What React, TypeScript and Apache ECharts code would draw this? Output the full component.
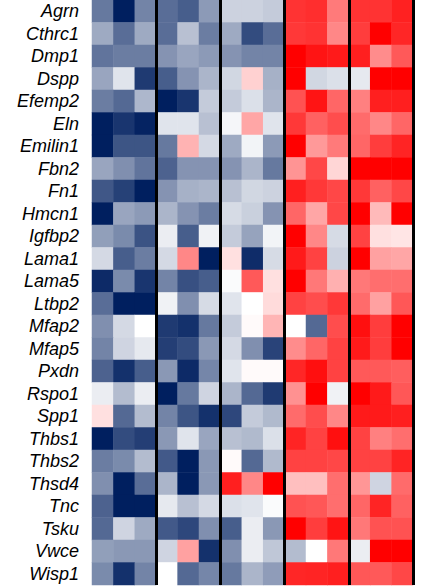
import React, { useEffect, useRef } from "react";
import * as echarts from "echarts";

const genes = ["Agrn","Cthrc1","Dmp1","Dspp","Efemp2","Eln","Emilin1","Fbn2","Fn1","Hmcn1","Igfbp2","Lama1","Lama5","Ltbp2","Mfap2","Mfap5","Pxdn","Rspo1","Spp1","Thbs1","Thbs2","Thsd4","Tnc","Tsku","Vwce","Wisp1"];
const samples = ["S1","S2","S3","S4","S5","S6","S7","S8","S9","S10","S11","S12","S13","S14","S15"];

const Agrn = [-0.6,-1.0,-0.55,-0.65,-0.72,-0.45,-0.2,-0.2,-0.23,0.8,0.82,0.52,0.8,0.8,0.87];
const Cthrc1 = [-0.38,-0.65,-0.38,-0.65,-0.28,-0.58,-0.38,-0.8,-0.65,0.78,0.8,0.47,0.76,1.0,0.85];
const Dmp1 = [-0.62,-0.58,-0.58,-0.48,-0.4,-0.45,-0.48,-0.55,-0.55,1.0,0.92,0.9,0.88,0.45,0.65];
const Dspp = [-0.4,-0.12,-0.88,-0.72,-0.48,-0.33,-0.18,0.18,-0.35,1.0,-0.18,-0.14,-0.1,1.0,1.0];
const Efemp2 = [-0.58,-0.67,-0.32,-1.0,-0.9,-0.23,-0.23,-0.14,-0.33,0.68,0.92,0.6,0.5,0.88,0.88];
const Eln = [-1.0,-0.9,-0.98,-0.12,-0.12,-0.28,-0.04,0.35,-0.12,0.78,0.62,0.7,0.58,0.47,0.6];
const Emilin1 = [-1.0,-0.76,-0.76,-0.6,0.3,-0.17,-0.38,-0.05,-0.45,1.0,0.4,0.52,0.6,0.76,0.86];
const Fbn2 = [-0.4,-0.5,-0.62,-0.7,-0.48,-0.48,-0.48,-0.33,-0.6,0.42,0.72,0.16,1.0,1.0,1.0];
const Fn1 = [-0.75,-0.85,-1.0,-0.48,-0.35,-0.33,-0.28,-0.18,-0.2,0.88,0.78,0.72,0.78,0.62,0.72];
const Hmcn1 = [-1.0,-0.4,-0.45,-0.33,-0.48,-0.58,-0.16,-0.21,-0.48,0.6,0.35,0.72,1.0,0.27,1.0];
const Igfbp2 = [-0.43,-0.52,-0.77,-0.08,-0.72,-0.06,-0.23,-0.41,-0.05,1.0,0.47,-0.16,0.74,0.12,0.1];
const Lama1 = [-0.17,-0.72,-0.58,-0.17,0.47,-1.0,0.12,-0.94,-0.16,0.9,0.74,-0.2,1.0,0.37,0.35];
const Lama5 = [-0.95,-0.52,-0.9,-0.55,-0.78,-0.72,-0.02,0.65,0.12,1.0,0.53,0.31,0.53,0.57,0.57];
const Ltbp2 = [-0.65,-1.0,-1.0,-0.06,-0.5,-0.16,-0.12,0.0,0.14,0.74,0.7,0.78,0.58,0.37,0.66];
const Mfap2 = [-0.5,-0.17,0.0,-0.88,-0.92,-0.6,-0.23,0.02,0.29,0.0,-0.67,0.7,0.94,0.76,1.0];
const Mfap5 = [-0.55,-0.19,-0.1,-0.86,-0.8,-0.46,-0.17,-0.5,-0.84,0.45,0.6,0.74,0.9,0.76,1.0];
const Pxdn = [-0.7,-0.92,-0.72,-0.46,-0.95,-0.54,-0.12,0.02,0.02,0.85,0.94,0.74,0.65,0.65,0.63];
const Rspo1 = [-0.08,-0.3,-0.08,-1.0,-0.6,-0.19,-0.33,-0.67,-0.88,0.43,1.0,-0.06,1.0,0.9,0.66];
const Spp1 = [0.12,-0.67,-0.3,-0.55,-0.76,-0.92,-0.82,-0.23,-0.31,0.58,0.7,0.47,0.9,0.9,0.88];
const Thbs1 = [-1.0,-0.8,-0.86,-0.46,-0.12,-0.4,-0.28,-0.31,-0.14,0.86,0.74,0.94,0.74,0.5,0.57];
const Thbs2 = [-0.58,-0.52,-0.3,-0.74,-1.0,-0.46,0.02,-0.67,-0.31,0.74,0.74,0.72,0.74,0.74,0.86];
const Thsd4 = [-0.5,-1.0,-0.65,-0.33,-1.0,-0.46,0.88,0.47,1.0,0.25,0.25,0.57,0.41,-0.19,0.58];
const Tnc = [-0.7,-1.0,-1.0,-0.1,-0.28,-0.17,-0.14,-0.12,-0.02,0.68,0.66,0.57,0.6,0.86,0.62];
const Tsku = [-0.67,-0.19,-0.38,-0.74,-0.82,-0.5,-0.72,-0.08,-0.46,1.0,0.76,0.92,0.53,0.68,0.68];
const Vwce = [-0.43,-0.46,-0.46,-0.19,0.37,-0.92,-0.5,-0.08,-0.25,-0.3,0.0,0.53,-0.08,1.0,1.0];
const Wisp1 = [-0.52,-0.92,-0.55,0.0,-0.67,-0.54,-0.6,-0.33,-0.44,0.85,0.86,0.88,0.66,0.65,0.72];

const rows = [Agrn,Cthrc1,Dmp1,Dspp,Efemp2,Eln,Emilin1,Fbn2,Fn1,Hmcn1,Igfbp2,Lama1,Lama5,Ltbp2,Mfap2,Mfap5,Pxdn,Rspo1,Spp1,Thbs1,Thbs2,Thsd4,Tnc,Tsku,Vwce,Wisp1];
const groupSize = 3;

export default function App() {
  const ref = useRef<HTMLDivElement>(null);
  useEffect(() => {
    if (!ref.current) return;
    const chart = echarts.init(ref.current, null, { renderer: "svg" });
    const data: number[][] = [];
    rows.forEach((r, yi) => r.forEach((v, xi) => data.push([xi, yi, v])));
    chart.setOption({
      animation: false,
      grid: { left: 92, right: 10, top: 0, bottom: 1 },
      visualMap: {
        show: false,
        min: -1,
        max: 1,
        calculable: false,
        inRange: { color: ["#001f5f", "#ffffff", "#ff0000"] },
      },
      xAxis: {
        type: "category",
        data: samples,
        z: 10,
        axisLabel: { show: false },
        axisTick: { show: false },
        axisLine: { show: false },
        splitLine: {
          show: true,
          interval: (index: number) => index > 0 && index % groupSize === 0,
          lineStyle: { color: "#000000", width: 3 },
        },
      },
      yAxis: {
        type: "category",
        data: genes,
        inverse: true,
        axisTick: { show: false },
        axisLine: { show: false },
        splitLine: { show: false },
        axisLabel: {
          interval: 0,
          margin: 13,
          fontFamily: "Liberation Sans, Arial, sans-serif",
          fontStyle: "italic",
          fontSize: 18,
          color: "#000000",
        },
      },
      series: [
        {
          type: "heatmap",
          data,
          itemStyle: { borderWidth: 0 },
          emphasis: { disabled: true },
        },
      ],
    });
    return () => chart.dispose();
  }, []);
  return <div ref={ref} style={{ width: 423, height: 586, position: "absolute", left: 0, top: 0 }} />;
}
